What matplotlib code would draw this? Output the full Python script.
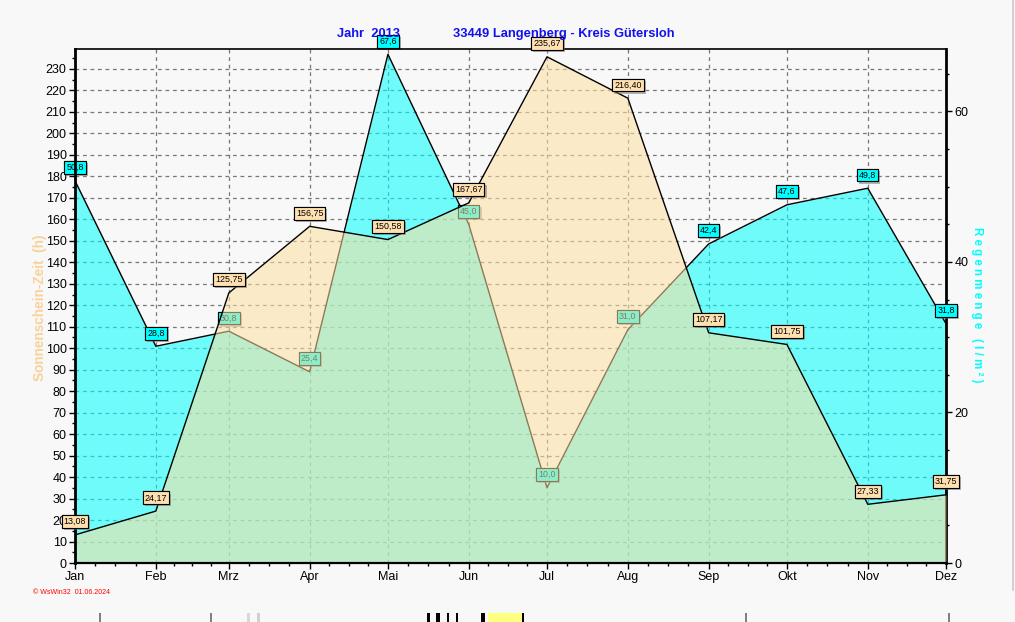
import matplotlib
matplotlib.use('Agg')
import matplotlib.pyplot as plt
import matplotlib.dates as mdates
import matplotlib.patheffects as pe
from matplotlib.patches import Rectangle
from matplotlib.lines import Line2D
import numpy as np
import pandas as pd

months = ['Jan', 'Feb', 'Mrz', 'Apr', 'Mai', 'Jun', 'Jul', 'Aug', 'Sep', 'Okt', 'Nov', 'Dez']
sunshine = [13.08, 24.17, 125.75, 156.75, 150.58, 167.67, 235.67, 216.40, 107.17, 101.75, 27.33, 31.75]
rain = [50.8, 28.8, 30.8, 25.4, 67.6, 45.0, 10.0, 31.0, 42.4, 47.6, 49.8, 31.8]
sun_ticks = list(range(0, 240, 10))
rain_ticks = [0, 20, 40, 60]

plt.rcParams['font.family'] = ['Liberation Sans', 'DejaVu Sans']

bg = '#F8F8F8'
cyan = '#00FFFF'
sun_fc = '#FFE0A1'
sun_box = '#FFE0B0'

dates = pd.date_range('2013-01-01', periods=12, freq='MS')
x = mdates.date2num(dates)
edges = mdates.date2num(pd.date_range('2013-01-01', periods=13, freq='MS'))
minor_x = []
for i in range(11):
    for k in range(1, 4):
        minor_x.append(edges[i] + k * (edges[i + 1] - edges[i]) / 4)

fig = plt.figure(figsize=(10.15, 6.22), dpi=100, facecolor=bg)
rect = [75 / 1015, 1 - 563 / 622, 871 / 1015, 514 / 622]
ax = fig.add_axes(rect, facecolor=bg)
ax_r = ax.twinx()
ax_s = ax.twinx()

sun_max = 239.3
rain_max = 68.3

# base axes: grid + left scale
ax.set_xlim(x[0], x[-1])
ax.set_ylim(0, sun_max)
ax.set_xticks(x)
ax.set_xticklabels(months, fontsize=9)
ax.set_xticks(minor_x, minor=True)
ax.set_yticks(sun_ticks)
ax.set_yticklabels([str(t) for t in sun_ticks], fontsize=9)
ax.set_yticks(np.arange(5, 240, 10), minor=True)
ax.tick_params(which='major', direction='out', length=4, width=1, pad=2)
ax.tick_params(which='minor', direction='out', length=2.5, width=1)
ax.grid(True, which='major', color='#787878', linestyle=(0, (3, 3)), linewidth=0.9)
for s in ['top', 'right', 'left', 'bottom']:
    ax.spines[s].set_visible(False)

# rain on the right scale, drawn below the sunshine
ax_r.set_ylim(0, rain_max)
ax_r.fill_between(x, 0, rain, color=cyan, alpha=0.55, lw=0)
ax_r.plot(x, rain, color='black', lw=1)
ax_r.set_yticks(rain_ticks)
ax_r.set_yticklabels([str(t) for t in rain_ticks], fontsize=9)
ax_r.set_yticks(np.arange(5, 70, 5), minor=True)
ax_r.tick_params(which='major', direction='out', length=4, width=1, pad=2)
ax_r.tick_params(which='minor', direction='out', length=2.5, width=1)
for s in ['top', 'left', 'bottom']:
    ax_r.spines[s].set_visible(False)
ax_r.spines['right'].set_linewidth(2)

# sunshine on the left scale, on top
ax_s.set_ylim(0, sun_max)
ax_s.fill_between(x, 0, sunshine, color=sun_fc, alpha=0.55, lw=0)
ax_s.plot(x, sunshine, color='black', lw=1)
ax_s.yaxis.set_visible(False)
ax_s.spines['right'].set_visible(False)
ax_s.spines['left'].set_linewidth(2)
ax_s.spines['bottom'].set_linewidth(1.6)
ax_s.spines['top'].set_linewidth(1.2)


def tag(axis, xv, yv, txt, fc):
    t = axis.annotate(txt, (xv, yv), xytext=(0, 9.5), textcoords='offset points',
                      ha='center', va='center', fontsize=6.4,
                      bbox=dict(boxstyle='square,pad=0.22', fc=fc, ec='black', lw=0.8),
                      annotation_clip=False, zorder=6)
    t.get_bbox_patch().set_path_effects([
        pe.withSimplePatchShadow(offset=(1.5, -1.5), shadow_rgbFace='#707070', alpha=0.5),
        pe.Normal()])


for xv, v in zip(x, rain):
    tag(ax_r, xv, v, ('%.1f' % v).replace('.', ','), cyan)
for xv, v in zip(x, sunshine):
    tag(ax_s, xv, v, ('%.2f' % v).replace('.', ','), sun_box)

# titles and axis labels
fig.text(337 / 1015, 1 - 34 / 622, 'Jahr  2013', color='#1010F0', fontsize=9.3,
         fontweight='bold', ha='left', va='center')
fig.text(453 / 1015, 1 - 34 / 622, '33449 Langenberg - Kreis Gütersloh', color='#1010F0',
         fontsize=9.3, fontweight='bold', ha='left', va='center')
fig.text(40 / 1015, 1 - 308 / 622, 'Sonnenschein-Zeit  (h)', color='#F8D29A', fontsize=9.8,
         fontweight='bold', rotation=90, ha='center', va='center')
fig.text(977 / 1015, 1 - 305 / 622, 'R e g e n m e n g e   ( l / m ² )', color=cyan, fontsize=8.3,
         fontweight='bold', rotation=-90, ha='center', va='center')
fig.text(33 / 1015, 1 - 593 / 622, '© WsWin32  01.06.2024', color='red', fontsize=5,
         ha='left', va='center')

# window border + toolbar remnants at the bottom
fig.add_artist(Line2D([1013 / 1015, 1013 / 1015], [1 - 590 / 622, 1], color='#C8C8C8', lw=1.2))
for x0, w, c in [(99, 2, '#808080'), (210, 2, '#808080'), (247, 3, '#D8D8D8'), (257, 3, '#D0D0D0'),
                 (427, 3, 'black'), (436, 4, 'black'), (447, 2, 'black'), (456, 2, 'black'),
                 (481, 4, 'black'), (488, 34, '#FFFF80'), (522, 2, 'black'),
                 (745, 2, '#808080'), (948, 2, '#808080')]:
    fig.add_artist(Rectangle((x0 / 1015, 0), w / 1015, 9 / 622, color=c, lw=0))

fig.savefig('out.png', dpi=100, facecolor=bg)
